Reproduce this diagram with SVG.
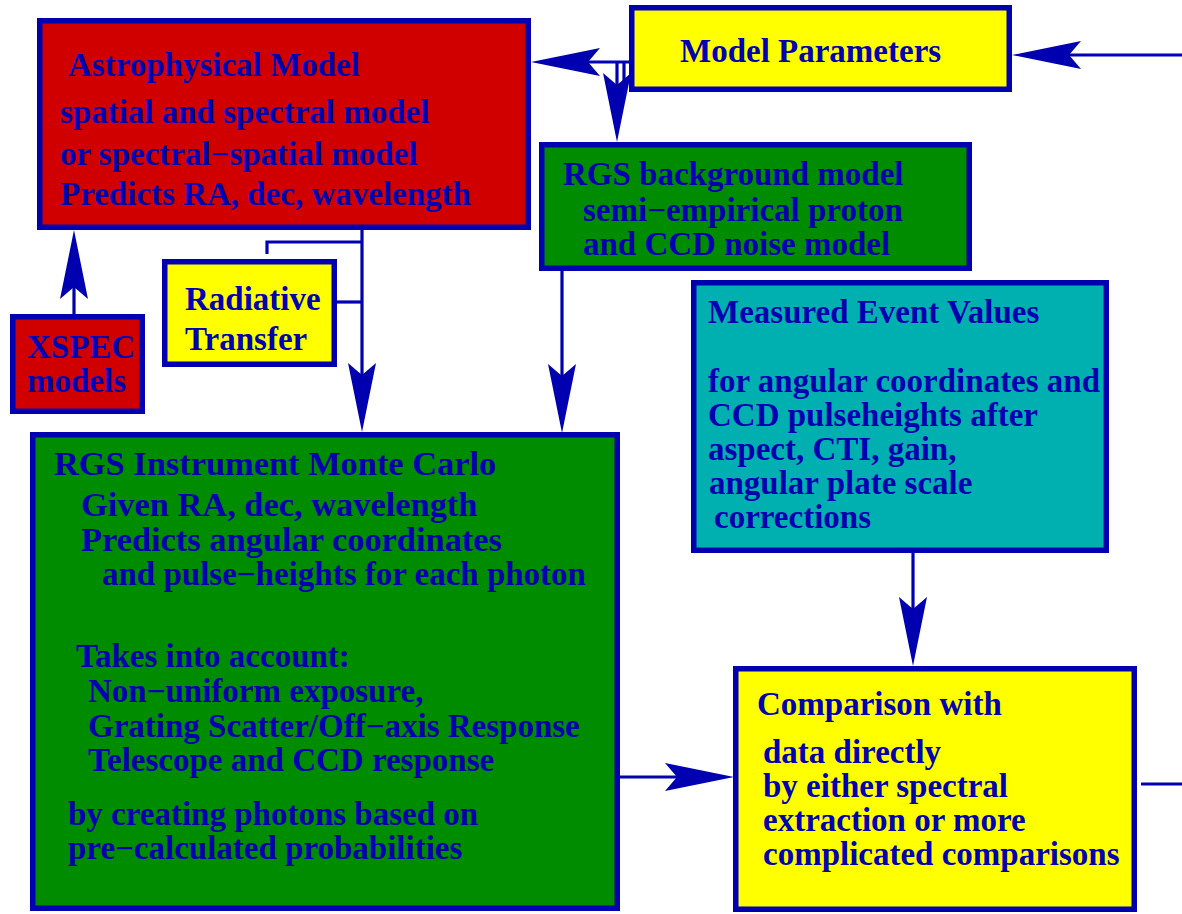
<svg xmlns="http://www.w3.org/2000/svg" width="1182" height="914" viewBox="0 0 1182 914">
<defs>
<style>
.box{stroke:#0000b0;stroke-width:5.5}
.red{fill:#d00000}
.yel{fill:#ffff00}
.grn{fill:#008c00}
.cyn{fill:#00b0b0}
text{font-family:"Liberation Serif","Times New Roman",serif;font-weight:bold;font-size:33px;fill:#0000b0}
text.big{font-size:34.4px}
.c{stroke:#0000b0;stroke-width:3.2;fill:none}
</style>
<marker id="ah" viewBox="0 0 70 30" refX="12" refY="15" markerWidth="70" markerHeight="30" markerUnits="userSpaceOnUse" orient="auto">
<path d="M0,1 L69,15 L0,29 L12,15 Z" fill="#0000b0"/>
</marker>
</defs>
<rect width="1182" height="914" fill="#ffffff"/>
<g id="connectors">
<line class="c" x1="1182" y1="55" x2="1069" y2="55" marker-end="url(#ah)"/>
<line class="c" x1="629" y1="62" x2="588" y2="62" marker-end="url(#ah)"/>
<line class="c" x1="617" y1="62" x2="617" y2="85" marker-end="url(#ah)"/>
<line class="c" x1="624" y1="62" x2="624" y2="82"/>
<line class="c" x1="74" y1="314" x2="74" y2="287" marker-end="url(#ah)"/>
<line class="c" x1="362" y1="230" x2="362" y2="375" marker-end="url(#ah)"/>
<line class="c" x1="337" y1="302" x2="362" y2="302"/>
<path class="c" d="M267,254 V242 H362"/>
<line class="c" x1="562" y1="271" x2="562" y2="376" marker-end="url(#ah)"/>
<line class="c" x1="913" y1="553" x2="913" y2="609" marker-end="url(#ah)"/>
<line class="c" x1="620" y1="777" x2="677" y2="777" marker-end="url(#ah)"/>
<line class="c" x1="1141" y1="784" x2="1182" y2="784"/>
</g>
<g id="astro">
<rect class="box red" x="39.75" y="20.75" width="488.5" height="206.5"/>
<text x="68" y="76">Astrophysical Model</text>
<text x="60" y="123">spatial and spectral model</text>
<text x="60" y="165">or spectral−spatial model</text>
<text x="60" y="205">Predicts RA, dec, wavelength</text>
</g>
<g id="params">
<rect class="box yel" x="631.75" y="7.75" width="377.5" height="81.5"/>
<text x="680" y="62">Model Parameters</text>
</g>
<g id="background">
<rect class="box grn" x="541.75" y="144.75" width="427.5" height="123.5"/>
<text x="563" y="185">RGS background model</text>
<text x="583" y="221">semi−empirical proton</text>
<text x="583" y="255">and CCD noise model</text>
</g>
<g id="radiative">
<rect class="box yel" x="164.75" y="261.75" width="169.5" height="102.5"/>
<text x="185" y="310">Radiative</text>
<text x="185" y="350">Transfer</text>
</g>
<g id="xspec">
<rect class="box red" x="12.75" y="316.75" width="129.5" height="94.5"/>
<text x="27" y="358">XSPEC</text>
<text x="27" y="392">models</text>
</g>
<g id="measured">
<rect class="box cyn" x="693.75" y="282.75" width="412.5" height="267.5"/>
<text x="708" y="323">Measured Event Values</text>
<text x="708" y="392">for angular coordinates and</text>
<text x="708" y="426">CCD pulseheights after</text>
<text x="708" y="460">aspect, CTI, gain,</text>
<text x="709" y="494">angular plate scale</text>
<text x="714" y="528">corrections</text>
</g>
<g id="instrument">
<rect class="box grn" x="32.75" y="434.75" width="584.5" height="473.5"/>
<text class="big" x="54" y="475">RGS Instrument Monte Carlo</text>
<text class="big" x="81" y="516">Given RA, dec, wavelength</text>
<text class="big" x="81" y="551">Predicts angular coordinates</text>
<text x="102" y="585">and pulse−heights for each photon</text>
<text x="76" y="667">Takes into account:</text>
<text x="88" y="702">Non−uniform exposure,</text>
<text x="88" y="737">Grating Scatter/Off−axis Response</text>
<text x="88" y="771">Telescope and CCD response</text>
<text x="68" y="825">by creating photons based on</text>
<text x="68" y="859">pre−calculated probabilities</text>
</g>
<g id="comparison">
<rect class="box yel" x="735.75" y="668.75" width="398.5" height="240.5"/>
<text x="757" y="715">Comparison with</text>
<text x="763" y="763">data directly</text>
<text x="763" y="797">by either spectral</text>
<text x="763" y="831">extraction or more</text>
<text x="763" y="865">complicated comparisons</text>
</g>
</svg>
